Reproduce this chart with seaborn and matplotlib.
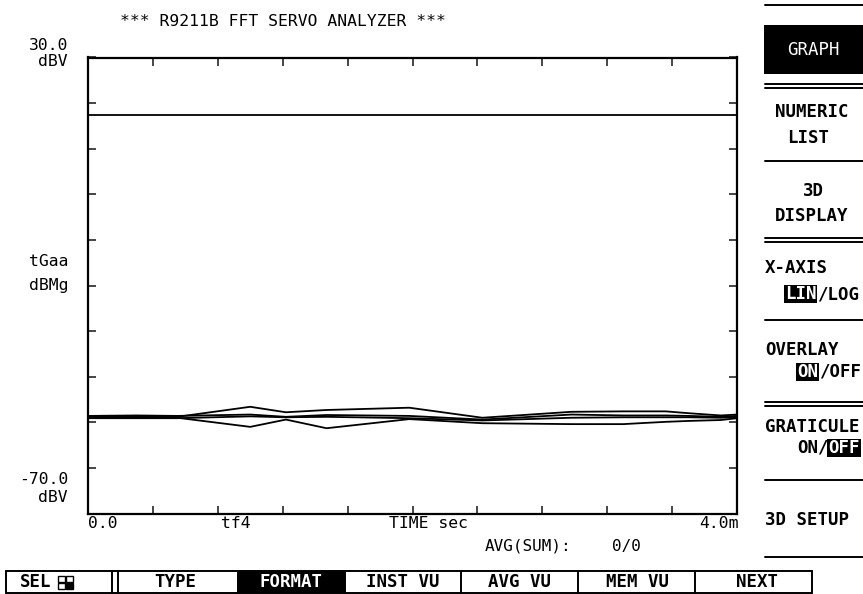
"""R9211B FFT servo analyzer screen - time trace overlay"""

import matplotlib

matplotlib.use("Agg")

import matplotlib.pyplot as plt
import pandas as pd
import seaborn as sns
from matplotlib.lines import Line2D
from matplotlib.patches import Rectangle

# time axis (ms) and overlaid traces (dBV)
time_ms = [0.0, 0.30, 0.55, 1.00, 1.22, 1.47, 1.98, 2.43, 2.98, 3.30, 3.40, 3.56, 3.70, 3.90, 4.00]
trace_a = [-48.8, -48.8, -48.8, -46.6, -47.8, -47.3, -46.8, -49.0, -47.7, -47.6, -47.6, -47.6, -48.0, -48.5, -48.3]
trace_b = [-49.0, -49.0, -49.0, -51.0, -49.4, -51.3, -49.3, -50.2, -50.4, -50.4, -50.2, -49.9, -49.7, -49.5, -49.1]
trace_c = [-48.6, -48.5, -48.6, -48.3, -48.8, -48.4, -48.6, -49.4, -48.3, -48.5, -48.5, -48.5, -48.6, -48.8, -48.6]
trace_d = [-49.1, -49.1, -49.1, -48.7, -48.9, -48.8, -49.1, -49.6, -49.0, -48.9, -48.9, -48.9, -48.9, -49.0, -48.9]
ref_time = [0.0, 4.0]
ref_level = [17.4, 17.4]

x_ticks = [0.0, 0.4, 0.8, 1.2, 1.6, 2.0, 2.4, 2.8, 3.2, 3.6, 4.0]
y_ticks = [-70, -60, -50, -40, -30, -20, -10, 0, 10, 20, 30]

menu_items = [
    # text, left x, y, highlighted chars
    ("NUMERIC", 775, 112, None),
    ("LIST", 787, 138, None),
    ("3D", 803, 191, None),
    ("DISPLAY", 775, 216, None),
    ("X-AXIS", 765, 268, None),
    ("LIN/LOG", 785, 294, (0, 3)),
    ("OVERLAY", 765, 350, None),
    ("ON/OFF", 797, 372, (0, 2)),
    ("GRATICULE", 765, 427, None),
    ("ON/OFF", 797, 448, (3, 6)),
    ("3D SETUP", 765, 520, None),
]
menu_rules = [(5, 1), (84, 2), (161, 1), (238, 2), (320, 1), (402, 2), (480, 1), (557, 1)]

softkeys = ["TYPE", "FORMAT", "INST VU", "AVG VU", "MEM VU", "NEXT"]
softkey_x = [175, 291, 403, 520, 637, 757]
softkey_edges = [6, 112, 118, 345, 461, 578, 695, 812]

W, H = 863, 594
MONO = "DejaVu Sans Mono"
FS = 12.5
CW = 0.602 * FS * 100 / 72  # char width in px


def fx(x):
    return x / W


def fy(y):
    return 1 - y / H


def hline(fig, x0, x1, y, lw=1.4):
    fig.add_artist(Line2D([fx(x0), fx(x1)], [fy(y), fy(y)], color="black", lw=lw, transform=fig.transFigure))


def vline(fig, x, y0, y1, lw=1.4):
    fig.add_artist(Line2D([fx(x), fx(x)], [fy(y0), fy(y1)], color="black", lw=lw, transform=fig.transFigure))


def black_box(fig, x0, y0, x1, y1, z=4):
    fig.add_artist(
        Rectangle((fx(x0), fy(y1)), (x1 - x0) / W, (y1 - y0) / H, transform=fig.transFigure,
                  facecolor="black", edgecolor="none", zorder=z)
    )


def label(fig, x, y, s, ha="left", bold=False, color="black", size=FS, z=3):
    fig.text(fx(x), fy(y), s, ha=ha, va="center", family=MONO, fontsize=size,
             weight="bold" if bold else "normal", color=color, zorder=z)


rows = []
for name, vals in [("a", trace_a), ("b", trace_b), ("c", trace_c), ("d", trace_d)]:
    for t, v in zip(time_ms, vals):
        rows.append({"trace": name, "time": t, "level": v})
for t, v in zip(ref_time, ref_level):
    rows.append({"trace": "ref", "time": t, "level": v})
df = pd.DataFrame(rows)

sns.set_theme(style="white")
plt.rcParams["font.family"] = [MONO, "DejaVu Sans"]

fig = plt.figure(figsize=(8.63, 5.94), dpi=100)
ax = fig.add_axes([fx(88), fy(513.5), (737 - 88) / W, (513.5 - 57.5) / H])

sns.lineplot(data=df, x="time", y="level", units="trace", estimator=None,
             color="black", lw=1.3, sort=False, ax=ax)

ax.set_xlim(0, 4.0)
ax.set_ylim(-70, 30)
ax.set_xticks(x_ticks)
ax.set_yticks(y_ticks)
ax.tick_params(direction="in", length=6, width=1.2, top=True, right=True, bottom=True, left=True,
               labelbottom=False, labelleft=False)
ax.set_xlabel("")
ax.set_ylabel("")
for sp in ax.spines.values():
    sp.set_color("black")
    sp.set_linewidth(1.6)

# title and axis annotations
label(fig, 283, 21, "*** R9211B FFT SERVO ANALYZER ***", ha="center", size=11.8)
label(fig, 68, 46, "30.0", ha="right", size=11.8)
label(fig, 68, 62, "dBV", ha="right", size=11.8)
label(fig, 68, 262, "tGaa", ha="right", size=11.8)
label(fig, 68, 286, "dBMg", ha="right", size=11.8)
label(fig, 68, 480, "-70.0", ha="right", size=11.8)
label(fig, 68, 497, "dBV", ha="right", size=11.8)
label(fig, 88, 523, "0.0", size=11.8)
label(fig, 236, 523, "tf4", ha="center", size=11.8)
label(fig, 428, 523, "TIME sec", ha="center", size=11.8)
label(fig, 739, 523, "4.0m", ha="right", size=11.8)
label(fig, 485, 546, "AVG(SUM):", size=11.5)
label(fig, 612, 546, "0/0", size=11.5)

# right soft-key menu
for y, n in menu_rules:
    hline(fig, 765, 863, y)
    if n == 2:
        hline(fig, 765, 863, y + 4)
black_box(fig, 764, 25, 863, 74)
label(fig, 813, 50, "GRAPH", ha="center", color="white", z=5)
for text, x, y, hl in menu_items:
    if hl is None:
        label(fig, x, y, text, bold=True)
        continue
    s0, s1 = hl
    black_box(fig, x + s0 * CW - 1, y - 9, x + s1 * CW + 1, y + 9)
    label(fig, x + s0 * CW, y, text[s0:s1], bold=True, color="white", z=5)
    if s0 > 0:
        label(fig, x, y, text[:s0], bold=True)
    if s1 < len(text):
        label(fig, x + s1 * CW + 1, y, text[s1:], bold=True)

# bottom soft-key bar
hline(fig, 6, 812, 571)
hline(fig, 6, 812, 593)
for x in softkey_edges:
    vline(fig, x, 571, 593)
black_box(fig, 237, 571, 345, 593)
label(fig, 20, 582, "SEL", bold=True)
# selector icon: 2x2 grid, lower-right cell filled
for (cx, cy), filled in zip([(58, 576), (66, 576), (58, 583), (66, 583)], [False, False, False, True]):
    fig.add_artist(Rectangle((fx(cx), fy(cy + 6)), 7 / W, 6 / H, transform=fig.transFigure,
                             facecolor="black" if filled else "white", edgecolor="black", lw=1.0))
for text, x in zip(softkeys, softkey_x):
    label(fig, x, 582, text, ha="center", bold=True, color="white" if text == "FORMAT" else "black", z=5)

fig.savefig("out.png", dpi=100, facecolor="white")
